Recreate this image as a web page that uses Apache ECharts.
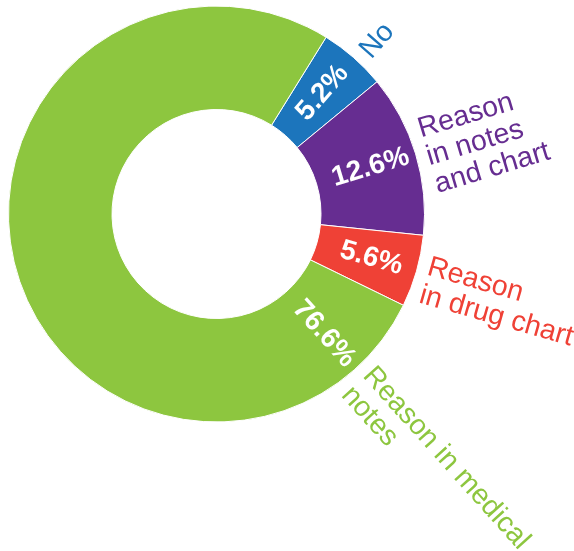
<!DOCTYPE html>
<html><head><meta charset="utf-8">
<script src="https://cdn.jsdelivr.net/npm/echarts@6/dist/echarts.min.js"></script>
<style>html,body{margin:0;padding:0;background:#fff}#c{width:574px;height:551px}</style>
</head><body><div id="c"></div>
<script>
// ---- data ----
const categories = ['No', 'Reason\nin notes\nand chart', 'Reason\nin drug chart', 'Reason in medical\nnotes'];
const values = [5.2, 12.6, 5.6, 76.6];
const percentLabels = ['5.2%', '12.6%', '5.6%', '76.6%'];
const colors = ['#1C75BC', '#662D91', '#EF4136', '#8DC63F'];

// ---- layout ----
const CX = 216.5, CY = 214, R0 = 104.5, R1 = 208;
const START = 31.8;          // first slice edge, degrees clockwise from 12 o'clock
const INNER_R = 161, OUTER_R = 218;
const OUTER_PERP_SHIFT = 7;  // shift of outer labels perpendicular to their baseline
const BIG_SLICE_LABEL_OFFSET = 22;

const total = values.reduce((a, b) => a + b, 0);
const starts = [];
let acc = START;
values.forEach(v => { starts.push(acc); acc += v / total * 360; });
function labelAngle(i) {
  const span = values[i] / total * 360;
  if (span > 180) return starts[i] + BIG_SLICE_LABEL_OFFSET;
  return starts[i] + span / 2;
}
function place(i, r, align, perp) {
  const deg = labelAngle(i);
  const a = deg * Math.PI / 180;
  const rho = 90 - deg;
  const rr = rho * Math.PI / 180;
  return {
    x: CX + r * Math.sin(a) + perp * Math.sin(rr),
    y: CY - r * Math.cos(a) + perp * Math.cos(rr),
    rotate: rho, align: align, verticalAlign: 'middle'
  };
}

const font = '"Liberation Sans", Arial, Helvetica, sans-serif';
const chart = echarts.init(document.getElementById('c'), null, { renderer: 'canvas' });
chart.setOption({
  animation: false,
  backgroundColor: '#ffffff',
  series: [
    {
      type: 'pie',
      center: [CX, CY],
      radius: [R0, R1],
      startAngle: 90 - START,
      clockwise: true,
      avoidLabelOverlap: false,
      silent: true,
      emphasis: { disabled: true },
      itemStyle: { borderColor: '#ffffff', borderWidth: 1 },
      label: {
        show: true, position: 'inside',
        formatter: p => percentLabels[p.dataIndex],
        color: '#ffffff', fontWeight: 'bold', fontSize: 28, fontFamily: font
      },
      labelLine: { show: false },
      labelLayout: p => place(p.dataIndex, INNER_R, 'center', 0),
      data: categories.map((c, i) => ({ name: c, value: values[i], itemStyle: { color: colors[i] } }))
    },
    {
      type: 'pie',
      center: [CX, CY],
      radius: [R0, R1],
      startAngle: 90 - START,
      clockwise: true,
      avoidLabelOverlap: false,
      silent: true,
      emphasis: { disabled: true },
      itemStyle: { color: 'rgba(0,0,0,0)' },
      label: {
        show: true, position: 'outside',
        formatter: p => categories[p.dataIndex],
        fontSize: 28.5, lineHeight: 29, fontFamily: font
      },
      labelLine: { show: false },
      labelLayout: p => place(p.dataIndex, OUTER_R, 'left', OUTER_PERP_SHIFT),
      data: categories.map((c, i) => ({ name: c, value: values[i], label: { color: colors[i] } }))
    }
  ]
});
</script>
</body></html>
